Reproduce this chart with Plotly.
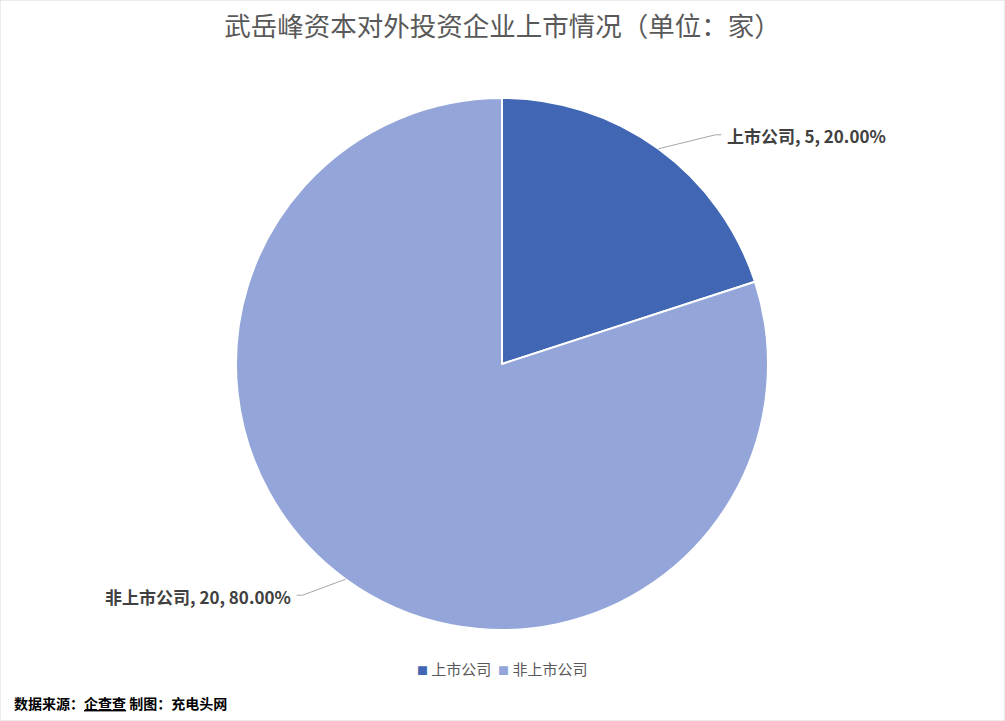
import math
import plotly.graph_objects as go

# data
categories = ["上市公司", "非上市公司"]
counts = [5, 20]
colors = ["#4066B4", "#93A5D9"]

title_text = "武岳峰资本对外投资企业上市情况（单位：家）"
source_text = "数据来源：<u>企查查</u> 制图：充电头网"

W, H = 1005, 721
CX, CY, R = 502, 364, 266  # pie centre / radius in px

# label leader offsets (px) from the slice edge, per slice
leader_offsets = [(57, -14), (-43, 16)]
elbow_len = 6

FONT = "Noto Sans CJK SC, Noto Sans, sans-serif"

fig = go.Figure()

fig.add_trace(go.Pie(
    labels=categories,
    values=counts,
    sort=False,
    direction="clockwise",
    rotation=0,
    marker=dict(colors=colors, line=dict(color="white", width=2)),
    textinfo="none",
    hoverinfo="label+value+percent",
    showlegend=False,
    domain=dict(x=[(CX - R) / W, (CX + R) / W], y=[1 - (CY + R) / H, 1 - (CY - R) / H]),
))

# leader lines and labels, positioned from the slice mid-angles
total = sum(counts)
cum = 0
for i, (cat, val) in enumerate(zip(categories, counts)):
    frac = val / total
    mid = (cum + frac / 2) * 2 * math.pi
    cum += frac
    ex = CX + R * math.sin(mid)
    ey = CY - R * math.cos(mid)
    dx, dy = leader_offsets[i]
    kx, ky = ex + dx, ey + dy
    side = 1 if dx > 0 else -1
    tx = kx + side * elbow_len
    fig.add_shape(
        type="path",
        xref="paper", yref="paper",
        path=f"M {ex / W},{1 - ey / H} L {kx / W},{1 - ky / H} L {tx / W},{1 - ky / H}",
        line=dict(color="#A6A6A6", width=1),
    )
    fig.add_annotation(
        x=(tx + side * 4) / W, y=1 - (ky + 1) / H,
        xref="paper", yref="paper",
        text=f"<b>{cat}, {val}, {frac * 100:.2f}%</b>",
        showarrow=False,
        xanchor="left" if side > 0 else "right",
        yanchor="middle",
        font=dict(family=FONT, size=17, color="#404040"),
    )

# legend, drawn as one centred line of coloured squares + names
legend_text = "  ".join(
    f'<span style="color:{c};font-size:11px">■</span> {cat}'
    for cat, c in zip(categories, colors)
)
fig.add_annotation(
    x=502 / W, y=1 - 668 / H, xref="paper", yref="paper",
    text=legend_text, showarrow=False,
    xanchor="center", yanchor="middle",
    font=dict(family=FONT, size=15, color="#595959"),
)

# footer
fig.add_annotation(
    x=12 / W, y=1 - 703 / H, xref="paper", yref="paper",
    text=f"<b>{source_text}</b>", showarrow=False,
    xanchor="left", yanchor="middle",
    font=dict(family=FONT, size=14, color="#000000"),
)

# outer border
fig.add_shape(type="rect", xref="paper", yref="paper", x0=0, y0=0, x1=1, y1=1,
              line=dict(color="#D9D9D9", width=1))

fig.update_layout(
    width=W, height=H,
    margin=dict(l=0, r=0, t=0, b=0),
    paper_bgcolor="white",
    plot_bgcolor="white",
    title=dict(text=title_text, x=0.5, xanchor="center", y=1 - 27 / H, yanchor="middle",
               font=dict(family=FONT, size=26.5, color="#595959")),
    showlegend=False,
)

fig.write_html("out.html", config={"displayModeBar": False},
               post_script="document.body.style.margin='0';")
